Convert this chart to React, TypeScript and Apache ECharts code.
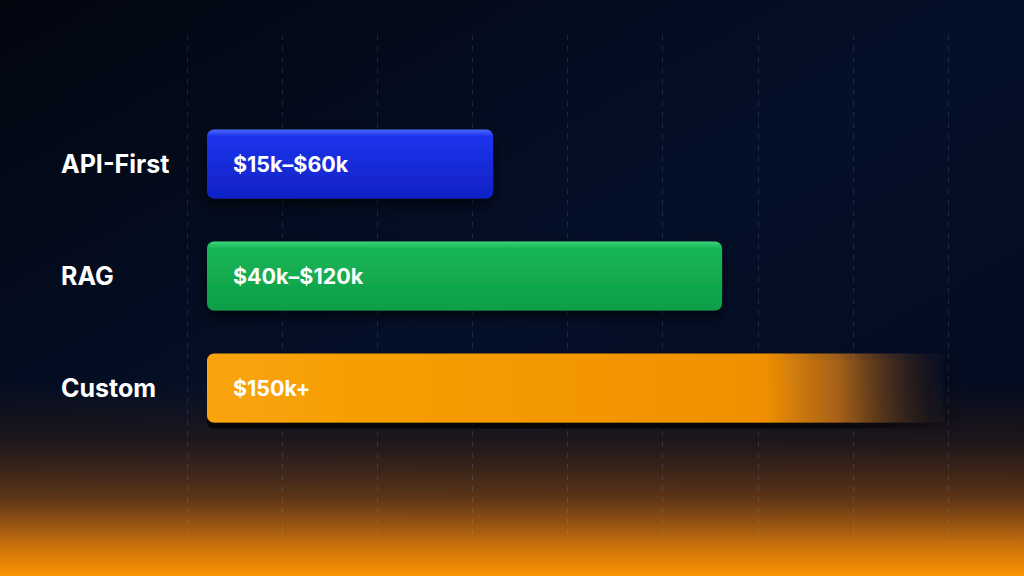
import { useEffect, useRef } from "react";
import * as echarts from "echarts";

const categories = ["API-First", "RAG", "Custom"];
const barLengths = [38, 68.4, 100];
const rangeLabels = ["$15k–$60k", "$40k–$120k", "$150k+"];
const gridTicks = [0, 1, 2, 3, 4, 5, 6, 7, 8];

const FONT = "Inter, 'Noto Sans', sans-serif";

const barFills = [
  new echarts.graphic.LinearGradient(0, 0, 0, 1, [
    { offset: 0, color: "#4a68ff" },
    { offset: 0.1, color: "#1c34ea" },
    { offset: 1, color: "#0f22c6" },
  ]),
  new echarts.graphic.LinearGradient(0, 0, 0, 1, [
    { offset: 0, color: "#3ad67c" },
    { offset: 0.1, color: "#16b656" },
    { offset: 1, color: "#0e9e47" },
  ]),
  new echarts.graphic.LinearGradient(0, 0, 1, 0, [
    { offset: 0, color: "#f9a408" },
    { offset: 0.74, color: "#f09000" },
    { offset: 0.84, color: "rgba(190,110,25,0.8)" },
    { offset: 0.93, color: "rgba(80,52,32,0.45)" },
    { offset: 1, color: "rgba(20,20,30,0)" },
  ]),
];

export default function App() {
  const ref = useRef<HTMLDivElement>(null);

  useEffect(() => {
    if (!ref.current) return;
    const chart = echarts.init(ref.current, null, { renderer: "svg" });

    chart.setOption({
      animation: false,
      backgroundColor: new echarts.graphic.LinearGradient(0, 0, 1, 1, [
        { offset: 0, color: "#02060f" },
        { offset: 0.5, color: "#041029" },
        { offset: 1, color: "#03091c" },
      ]),
      graphic: [
        {
          type: "rect",
          z: -10,
          silent: true,
          shape: { x: 0, y: 380, width: 1024, height: 196 },
          style: {
            fill: new echarts.graphic.LinearGradient(0, 0, 0, 1, [
              { offset: 0, color: "rgba(40,25,20,0)" },
              { offset: 0.3, color: "rgba(45,28,22,0.6)" },
              { offset: 0.6, color: "rgba(115,62,20,0.8)" },
              { offset: 0.85, color: "rgba(220,122,10,0.93)" },
              { offset: 1, color: "#f99500" },
            ]),
          },
        },
      ],
      grid: [
        { left: 187, right: 76, top: 35, bottom: 36 },
        { left: 207, right: 64, top: 108, bottom: 132 },
      ],
      xAxis: [
        {
          gridIndex: 0,
          type: "value",
          min: gridTicks[0],
          max: gridTicks[gridTicks.length - 1],
          interval: 1,
          axisLine: { show: false },
          axisTick: { show: false },
          axisLabel: { show: false },
          splitLine: {
            show: true,
            lineStyle: { color: "rgba(170,185,220,0.16)", type: [5, 6], width: 1 },
          },
        },
        {
          gridIndex: 1,
          type: "value",
          min: 0,
          max: 100,
          show: false,
          splitLine: { show: false },
        },
      ],
      yAxis: [
        { gridIndex: 0, type: "value", show: false },
        {
          gridIndex: 1,
          type: "category",
          data: categories,
          inverse: true,
          axisLine: { show: false },
          axisTick: { show: false },
          splitLine: { show: false },
          axisLabel: {
            align: "left",
            margin: 146,
            color: "#ffffff",
            fontFamily: FONT,
            fontSize: 25,
            fontWeight: 700,
          },
        },
      ],
      series: [
        {
          type: "bar",
          xAxisIndex: 1,
          yAxisIndex: 1,
          barWidth: 69,
          data: barLengths.map((v, i) => ({
            value: v,
            itemStyle: {
              color: barFills[i],
              borderRadius: 7,
              shadowBlur: i === 2 ? 0 : 14,
              shadowColor: "rgba(0,0,0,0.7)",
              shadowOffsetY: 6,
            },
          })),
          label: {
            show: true,
            position: "insideLeft",
            distance: 26,
            color: "#ffffff",
            fontFamily: FONT,
            fontSize: 21.5,
            fontWeight: 700,
            formatter: (p: any) => rangeLabels[p.dataIndex],
          },
        },
      ],
    });

    return () => chart.dispose();
  }, []);

  return (
    <div
      ref={ref}
      style={{ position: "fixed", left: 0, top: 0, width: 1024, height: 576 }}
    />
  );
}
